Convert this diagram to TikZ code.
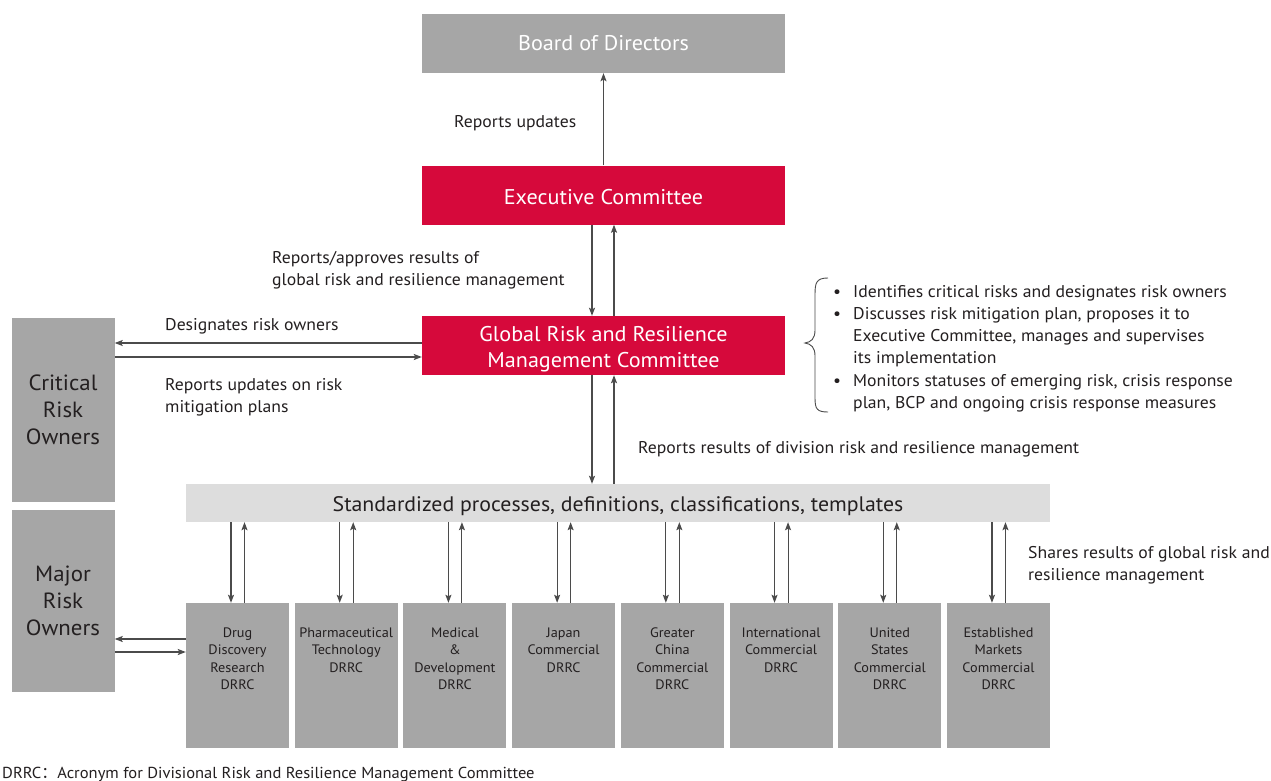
\documentclass[tikz,border=0pt]{standalone}
\usepackage{fontspec}
\setmainfont[FakeStretch=1.04]{PT Sans}
\newfontfamily\cjkfont{Noto Sans CJK SC}
\usetikzlibrary{arrows.meta}
\definecolor{tred}{RGB}{214,9,59}
\definecolor{tgray}{RGB}{166,166,166}
\definecolor{tlight}{RGB}{221,221,221}
\definecolor{ttext}{RGB}{35,31,32}
\definecolor{tline}{RGB}{75,75,75}
\newcommand\mystrutA{\rule{0pt}{12.5pt}}
\newcommand\mystrutB{\rule{0pt}{10pt}}
\begin{document}
\begin{tikzpicture}[x=1pt,y=-1pt,
  topbox/.style={inner sep=0pt,minimum width=363pt,minimum height=59pt,text=white,align=center,font=\fontsize{21.3}{26}\selectfont},
  redbox/.style={topbox,fill=tred},
  greybox/.style={topbox,fill=tgray},
  ownerbox/.style={fill=tgray,inner sep=0pt,minimum width=103pt,text=ttext,align=center,font=\fontsize{22}{27}\selectfont},
  drrcbox/.style={fill=tgray,inner sep=0pt,minimum width=103pt,minimum height=145pt},
  drrclabel/.style={anchor=north,inner sep=0pt,align=center,text=ttext,font=\fontsize{13.7}{17.6}\selectfont},
  lbl/.style={inner sep=0pt,text=ttext,align=left,font=\fontsize{17}{22.2}\selectfont},
  arr/.style={draw=tline,line width=1.1pt,-{Stealth[length=8pt,width=6pt,inset=1.5pt]}}
]
\useasboundingbox[fill=white] (0,0) rectangle (1271,781);

% main boxes
\node[greybox] (board) at (603.5,43.5) {Board of Directors};
\node[redbox] (exec) at (603.5,195) {\rule{0pt}{19pt}Executive Committee};
\node[redbox] (grr) at (603.5,345.5) {\rule{0pt}{23pt}Global Risk and Resilience\\Management Committee};
\node[ownerbox,minimum height=184pt] (crit) at (63,410) {Critical\\Risk\\Owners};
\node[ownerbox,minimum height=182pt] (major) at (63,601) {Major\\Risk\\Owners};
\node[fill=tlight,inner sep=0pt,minimum width=864pt,minimum height=38pt,text=ttext,font=\fontsize{21}{24}\selectfont] (bar) at (618,503) {\rule{0pt}{21pt}Standardized processes, definitions, classifications, templates};

% DRRC boxes
\foreach \i/\t in {0/{Drug\\Discovery\\Research\\DRRC},
                   1/{Pharmaceutical\\Technology\\DRRC},
                   2/{Medical\\\&\\Development\\DRRC},
                   3/{Japan\\Commercial\\DRRC},
                   4/{Greater\\China\\Commercial\\DRRC},
                   5/{International\\Commercial\\DRRC},
                   6/{United\\States\\Commercial\\DRRC},
                   7/{Established\\Markets\\Commercial\\DRRC}}{
  \node[drrcbox] (d\i) at ({237.5+108.71*\i},675.5) {};
  \node[drrclabel] (dl\i) at ([yshift=-24pt]d\i.north) {\mystrutB\t};
  \draw[arr] ([xshift=-6.5pt]d\i.north |- bar.south) -- ([xshift=-6.5pt]d\i.north);
  \draw[arr] ([xshift=7pt]d\i.north) -- ([xshift=7pt]d\i.north |- bar.south);
}

% vertical connectors
\draw[arr] (exec.north) -- (board.south);
\draw[arr] ([xshift=-11.5pt]exec.south) -- ([xshift=-11.5pt]grr.north);
\draw[arr] ([xshift=10.5pt]grr.north) -- ([xshift=10.5pt]exec.south);
\draw[arr] ([xshift=-11.5pt]grr.south) -- ([xshift=-11.5pt]grr.south |- bar.north);
\draw[arr] ([xshift=10.5pt]grr.south |- bar.north) -- ([xshift=10.5pt]grr.south);

% horizontal connectors
\draw[arr] ([yshift=2.5pt]grr.west) -- ([yshift=2.5pt]grr.west -| crit.east);
\draw[arr] ([yshift=-11.5pt]grr.west -| crit.east) -- ([yshift=-11.5pt]grr.west);
\draw[arr] ([yshift=36.5pt]d0.west) -- ([yshift=36.5pt]d0.west -| major.east);
\draw[arr] ([yshift=23.5pt]d0.west -| major.east) -- ([yshift=23.5pt]d0.west);

% labels
\node[lbl,anchor=base west] (l1) at (454,128) {Reports updates};
\node[lbl,anchor=north west] (l2) at (272,250.5) {\mystrutA Reports/approves results of\\global risk and resilience management};
\node[lbl,anchor=base west] (l3) at (165,330) {Designates risk owners};
\node[lbl,anchor=north west] (l4) at (165,377.5) {\mystrutA Reports updates on risk\\mitigation plans};
\node[lbl,anchor=base west] (l5) at (638,453) {Reports results of division risk and resilience management};
\node[lbl,anchor=north west] (l6) at (1028,545.5) {\mystrutA Shares results of global risk and\\resilience management};

% bullet list
\node[lbl,anchor=base west] (b1) at (833,297) {•};
\node[lbl,anchor=base west] (b2) at (833,319) {•};
\node[lbl,anchor=base west] (b3) at (833,386) {•};
\node[lbl,anchor=base west] (t1) at (853,297) {Identifies critical risks and designates risk owners};
\node[lbl,anchor=north west] (t2) at (853,306.5) {\mystrutA Discusses risk mitigation plan, proposes it to\\Executive Committee, manages and supervises\\its implementation};
\node[lbl,anchor=north west] (t3) at (853,373.5) {\mystrutA Monitors statuses of emerging risk, crisis response\\plan, BCP and ongoing crisis response measures};
\draw[tline,line width=0.9pt] (828,278) .. controls (816,278) and (815,283) .. (815,295)
  -- (815,330) .. controls (815,339) and (811,342) .. (805,343)
  .. controls (811,344) and (815,347) .. (815,356)
  -- (815,398) .. controls (815,409) and (817,412) .. (828,412);

% footnote
\node[lbl,anchor=base west,font=\fontsize{15.9}{18}\selectfont] (foot) at (2,778) {DRRC{\cjkfont ：}Acronym for Divisional Risk and Resilience Management Committee};
\end{tikzpicture}
\end{document}
